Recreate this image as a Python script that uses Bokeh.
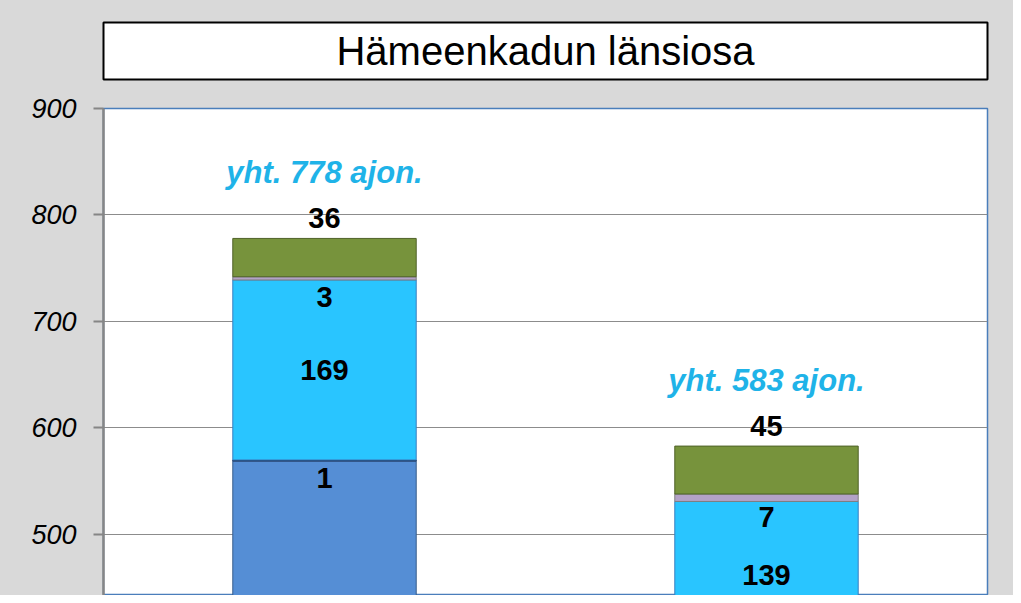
from bokeh.plotting import figure
from bokeh.models import ColumnDataSource, Range1d, FactorRange, FixedTicker, LabelSet
from bokeh.layouts import column
from bokeh.embed import file_html
from bokeh.resources import INLINE
from bokeh.core.properties import value

# ---- data ----
title_text = "Hämeenkadun länsiosa"
categories = ["Nykytilanne", "Ennuste"]
henkiloautot = [569, 392]
moottoripyorat = [1, 0]
pakettiautot = [169, 139]
linja_autot = [3, 7]
kuorma_autot = [36, 45]
y_ticks = [400, 500, 600, 700, 800, 900]
total_prefix = "yht. "
total_suffix = " ajon."

series = [henkiloautot, moottoripyorat, pakettiautot, linja_autot, kuorma_autot]
names = ["henkiloautot", "moottoripyorat", "pakettiautot", "linja_autot", "kuorma_autot"]
fills = ["#558ed5", "#1f3864", "#29c5ff", "#b3a2c7", "#77933c"]
lines = ["#385d8a", "#1f3864", "#3a7fc0", "#7f7f7f", "#4f6228"]

GREY = "#d9d9d9"
FONT = "Liberation Sans"
W = 1013

# ---- title figure ----
t = figure(width=W, height=88, output_backend="svg", toolbar_location=None,
           x_range=Range1d(0, 1), y_range=Range1d(0, 1),
           x_axis_location=None, y_axis_location=None,
           min_border_left=100, min_border_right=W - 987, min_border_top=22, min_border_bottom=9)
t.grid.visible = False
t.border_fill_color = GREY
t.background_fill_color = "white"
t.outline_line_color = "black"
t.outline_line_width = 2
t.text(x=[0.5], y=[0.5], text=[title_text], text_align="center", text_baseline="middle",
       text_font=value(FONT), text_font_size="40px", text_color="black")

# ---- chart ----
data = {"cat": categories}
for n, s in zip(names, series):
    data[n] = s
source = ColumnDataSource(data)

p = figure(width=W, height=507, output_backend="svg", toolbar_location=None,
           x_range=FactorRange(*categories, range_padding=0),
           y_range=Range1d(442.7, 900),
           x_axis_location=None,
           min_border_left=103, min_border_right=W - 990, min_border_top=20, min_border_bottom=0)
p.border_fill_color = GREY
p.background_fill_color = "white"
p.outline_line_color = "#4a7ebb"
p.outline_line_width = 1.5
p.xgrid.visible = False
p.ygrid.grid_line_color = "#8c8c8c"
p.ygrid.grid_line_width = 1
p.yaxis.ticker = FixedTicker(ticks=y_ticks)
p.yaxis.axis_line_color = "#868686"
p.yaxis.axis_line_width = 2.5
p.yaxis.major_tick_line_color = "#868686"
p.yaxis.major_tick_line_width = 2
p.yaxis.major_tick_out = 10
p.yaxis.major_tick_in = 0
p.yaxis.minor_tick_line_color = None
p.yaxis.major_label_standoff = 17
p.yaxis.major_label_text_font = FONT
p.yaxis.major_label_text_font_style = "italic"
p.yaxis.major_label_text_font_size = "27px"
p.yaxis.major_label_text_color = "black"

p.vbar_stack(names, x="cat", width=0.415, source=source,
             fill_color=fills, line_color=lines, line_width=1)

# ---- labels ----
lx, ly, lt, lo = [], [], [], []
tx, ty, tt = [], [], []
for i, c in enumerate(categories):
    bottoms = [0]
    for s in series:
        bottoms.append(bottoms[-1] + s[i])
    total = bottoms[-1]
    offsets = [None, -18, 0, -19, None]
    for k in range(1, len(series)):
        v = series[k][i]
        if v == 0:
            continue
        mid = (bottoms[k] + bottoms[k + 1]) / 2
        if k == len(series) - 1:
            lx.append(c); ly.append(total); lt.append(str(v)); lo.append(20)
        else:
            lx.append(c); ly.append(mid); lt.append(str(v)); lo.append(offsets[k])
    tx.append(c); ty.append(total); tt.append(total_prefix + str(total) + total_suffix)

lsrc = ColumnDataSource(dict(x=lx, y=ly, text=lt, off=lo))
p.add_layout(LabelSet(x="x", y="y", text="text", y_offset="off", source=lsrc,
                      text_align="center", text_baseline="middle",
                      text_font=value(FONT), text_font_style="bold",
                      text_font_size="29px", text_color="black"))
tsrc = ColumnDataSource(dict(x=tx, y=ty, text=tt))
p.add_layout(LabelSet(x="x", y="y", text="text", y_offset=66, source=tsrc,
                      text_align="center", text_baseline="middle",
                      text_font=value(FONT), text_font_style="bold italic",
                      text_font_size="31px", text_color="#1fb3e8"))

layout = column(t, p, spacing=0, styles={"background-color": GREY})
open("out.html", "w").write(file_html(layout, INLINE))
